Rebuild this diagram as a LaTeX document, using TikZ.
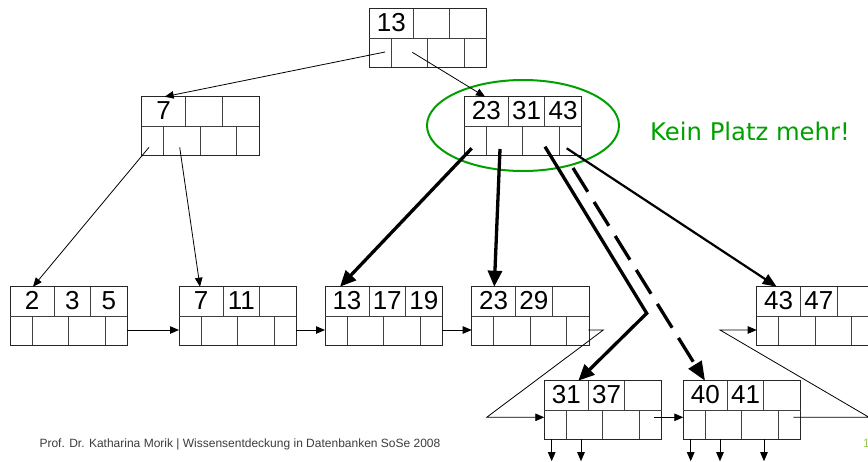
\documentclass[tikz,border=0pt]{standalone}
\usepackage{fontspec}
\setmainfont{Liberation Sans}
\newfontfamily\hinweisfont{DejaVu Sans}
\usetikzlibrary{arrows.meta}
\definecolor{ringgruen}{RGB}{0,160,0}
\definecolor{seitengruen}{RGB}{150,205,80}
\definecolor{fussgrau}{RGB}{60,60,60}

\begin{document}
\begin{tikzpicture}[x=1pt, y=-1pt,
    >={Triangle[length=9pt,width=7.5pt]},
    kasten/.style={draw=black!85, line width=0.8pt, minimum width=117.3pt,
      minimum height=58.5pt, inner sep=0pt, outer sep=0pt},
    teiler/.style={draw=black!75, line width=0.8pt},
    schluessel/.style={font=\fontsize{26}{26}\selectfont, inner sep=0pt},
    zeiger/.style={->, line width=0.8pt},
    dick/.style={line width=3.3pt, -{Triangle[length=16pt,width=14pt]}},
    pics/bknoten/.style n args={3}{code={
      \node[kasten, anchor=north west] (-box) at (0,0) {};
      \draw[teiler] (0,29.3) -- (117.3,29.3)
        (44,0) -- (44,29.3) (80.5,0) -- (80.5,29.3)
        (22,29.3) -- (22,58.5) (58.5,29.3) -- (58.5,58.5) (95,29.3) -- (95,58.5);
      \node[schluessel] (-a) at (22,13.5) {#1};
      \node[schluessel] (-b) at (62.25,13.5) {#2};
      \node[schluessel] (-c) at (98.9,13.5) {#3};
    }}]
  \useasboundingbox (0,0) rectangle (868,461);

  \pic (w) at (369.3,8.7) {bknoten={13}{}{}};
  \pic (i1) at (141.7,96.7) {bknoten={7}{}{}};
  \pic (i2) at (464.3,96.7) {bknoten={23}{31}{43}};
  \pic (l1) at (10,286.7) {bknoten={2}{3}{5}};
  \pic (l2) at (179,286.7) {bknoten={7}{11}{}};
  \pic (l3) at (325,286.7) {bknoten={13}{17}{19}};
  \pic (l4) at (471.7,286.7) {bknoten={23}{29}{}};
  \pic (l5) at (756.7,286.7) {bknoten={43}{47}{}};
  \pic (n1) at (544.3,380.7) {bknoten={31}{37}{}};
  \pic (n2) at (683.3,380.7) {bknoten={40}{41}{}};

  \draw[ringgruen, line width=2pt] (523,125.5) ellipse [x radius=96, y radius=45.5];
  \node[anchor=base west, inner sep=0pt, text=ringgruen,
    font=\hinweisfont\fontsize{24.3}{24.3}\selectfont] (voll) at (650,140) {Kein Platz mehr!};

  \coordinate (knick) at (646.7,313.3);
  \coordinate (spalt) at (573,168);
  \coordinate (ecke1) at (603.3,330);
  \coordinate (ecke2) at (486.7,417.3);
  \coordinate (ecke3) at (869,417.3);
  \coordinate (ecke4) at (720,330);

  \draw[zeiger] ([shift={(15.7,43.3)}]w-box.north west) -- ([shift={(23,0)}]i1-box.north west);
  \draw[zeiger] ([shift={(43,43.6)}]w-box.north west) -- ([shift={(20.7,0)}]i2-box.north west);
  \draw[zeiger] ([shift={(7.3,50.6)}]i1-box.north west) -- ([shift={(23,0)}]l1-box.north west);
  \draw[zeiger] ([shift={(38,50.6)}]i1-box.north west) -- ([shift={(21,0)}]l2-box.north west);

  \draw[dick] ([shift={(7.4,51.6)}]i2-box.north west) -- ([shift={(15,0)}]l3-box.north west);
  \draw[dick] ([shift={(35.7,52.3)}]i2-box.north west) -- ([shift={(22.6,0)}]l4-box.north west);
  \draw[dick] ([shift={(80.7,50)}]i2-box.north west) -- (knick) -- ([shift={(34,0)}]n1-box.north west);
  \draw[dick, -{Triangle[length=19pt,width=15pt]}, dash pattern=on 28pt off 12pt]
    (spalt) -- ([shift={(21.7,0)}]n2-box.north west);
  \draw[line width=2.2pt, -{Triangle[length=14pt,width=11pt]}]
    ([shift={(102.4,51.6)}]i2-box.north west) -- ([shift={(20,0)}]l5-box.north west);

  \draw[zeiger] ([shift={(117.3,43.3)}]l1-box.north west) -- ([shift={(0,43.3)}]l2-box.north west);
  \draw[zeiger] ([shift={(117.3,43.3)}]l2-box.north west) -- ([shift={(0,43.3)}]l3-box.north west);
  \draw[zeiger] ([shift={(117.3,43.3)}]l3-box.north west) -- ([shift={(0,43.3)}]l4-box.north west);
  \draw[zeiger] ([shift={(116.6,43.3)}]l4-box.north west) -- (ecke1) -- (ecke2)
    -- ([shift={(0,36.6)}]n1-box.north west);
  \draw[zeiger] ([shift={(109.7,36.6)}]n1-box.north west) -- ([shift={(0,36.6)}]n2-box.north west);
  \draw[zeiger] ([shift={(110,36.6)}]n2-box.north west) -- (ecke3) -- (ecke4)
    -- ([shift={(0,43.3)}]l5-box.north west);

  \draw[zeiger] ([shift={(7.4,58.5)}]n1-box.north west) -- ++(0,22);
  \draw[zeiger] ([shift={(36.7,58.5)}]n1-box.north west) -- ++(0,22);
  \draw[zeiger] ([shift={(7.4,58.5)}]n2-box.north west) -- ++(0,22);
  \draw[zeiger] ([shift={(36.7,58.5)}]n2-box.north west) -- ++(0,22);
  \draw[zeiger] ([shift={(80.7,58.5)}]n2-box.north west) -- ++(0,22);

  \node[anchor=base west, inner sep=0pt, text=fussgrau, font=\fontsize{12}{12}\selectfont]
    (fuss) at (39.3,447) {Prof. Dr. Katharina Morik | Wissensentdeckung in Datenbanken SoSe 2008};
  \node[anchor=base west, inner sep=0pt, text=seitengruen, font=\fontsize{12}{12}\selectfont]
    (seite) at (862.8,447) {1};
\end{tikzpicture}
\end{document}
